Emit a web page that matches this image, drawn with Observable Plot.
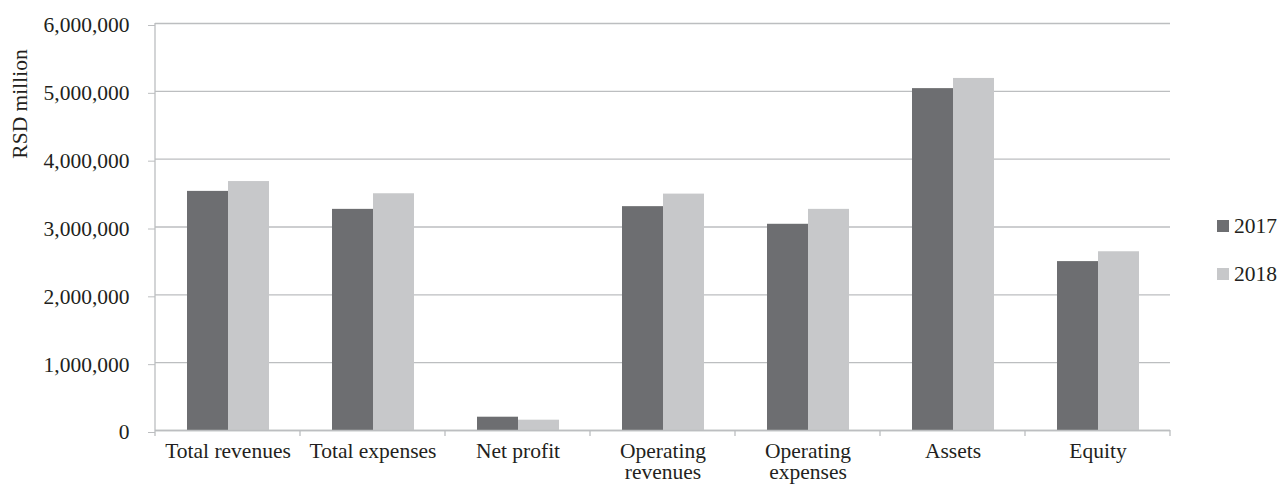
<!DOCTYPE html>
<html><head><meta charset="utf-8">
<script src="https://cdn.jsdelivr.net/npm/d3@7"></script>
<script src="https://cdn.jsdelivr.net/npm/@observablehq/plot@0.6"></script>
<style>
body{margin:0;background:#fff;}
#wrap{position:relative;width:1283px;height:486px;overflow:hidden;font-family:"Liberation Serif",serif;color:#231f20;}
#wrap svg{display:block;position:absolute;left:0;top:0;}
#ylabel{position:absolute;left:20px;top:104px;transform:translate(-50%,-50%) rotate(-90deg);font-size:21.5px;white-space:nowrap;}
.leg{position:absolute;left:1217px;font-size:21.5px;line-height:1;}
.leg span.sw{position:absolute;left:0;width:12px;height:12px;}
.leg span.tx{position:absolute;left:17px;white-space:nowrap;}
</style></head><body><div id="wrap"></div>
<script>
const categories = ["Total revenues","Total expenses","Net profit","Operating revenues","Operating expenses","Assets","Equity"];
const categoryLabels = ["Total revenues","Total expenses","Net profit","Operating\nrevenues","Operating\nexpenses","Assets","Equity"];
const years = ["2017","2018"];
const values2017 = [3525000,3260000,196000,3300000,3040000,5040000,2490000];
const values2018 = [3670000,3490000,152000,3485000,3260000,5190000,2635000];
const yTicks = [0,1000000,2000000,3000000,4000000,5000000,6000000];
const yLabel = "RSD million";
const colors = ["#6d6e71","#c7c8ca"];

const data = [];
categories.forEach((c,i)=>{
  data.push({category:c, year:years[0], value:values2017[i]});
  data.push({category:c, year:years[1], value:values2018[i]});
});

const W=1283,H=486,mt=23,mb=56,ml=155,mr=113;
const gridColor="#bcbec0", textColor="#231f20";
const chart = Plot.plot({
  width:W,height:H,marginTop:mt,marginBottom:mb,marginLeft:ml,marginRight:mr,
  style:{fontFamily:"Liberation Serif, serif",fontSize:"21.5px",color:textColor,background:"#fff"},
  fx:{domain:categories,padding:0,label:null},
  x:{domain:years,paddingInner:0,paddingOuter:0.75,axis:null},
  y:{domain:[0,6000000],label:null},
  color:{domain:years,range:colors},
  marks:[
    Plot.gridY(yTicks,{stroke:gridColor,strokeOpacity:1,strokeWidth:1.3}),
    Plot.barY(data,{fx:"category",x:"year",y:"value",fill:"year"}),
    Plot.ruleY([0],{stroke:gridColor,strokeWidth:1.3}),
    Plot.axisY(yTicks,{tickSize:7,tickPadding:19,tickFormat:d3.format(","),stroke:gridColor,fill:textColor,fontSize:21.5,label:null,dy:2}),
    Plot.axisFx({anchor:"bottom",tickSize:0,tickPadding:12,tickFormat:d=>categoryLabels[categories.indexOf(d)],fontSize:21.5,lineHeight:1.0,label:null,fill:textColor})
  ]
});

// category boundary ticks and y axis line from the library's scales
const fxS = chart.scale("fx"), yS = chart.scale("y");
const edges = categories.map(d=>fxS.apply(d)).concat([fxS.apply(categories[categories.length-1])+fxS.bandwidth]);
const g = d3.select(chart).append("g").attr("stroke",gridColor).attr("stroke-width",1.3);
g.selectAll("line.t").data(edges).join("line").attr("class","t")
  .attr("x1",d=>d).attr("x2",d=>d).attr("y1",yS.apply(0)).attr("y2",yS.apply(0)+6);
g.append("line").attr("x1",edges[0]).attr("x2",edges[0]).attr("y1",yS.apply(6000000)).attr("y2",yS.apply(0));

const wrap=document.getElementById("wrap");
wrap.appendChild(chart);
const yl=document.createElement("div");yl.id="ylabel";yl.textContent=yLabel;wrap.appendChild(yl);
const legTops=[220,268];
years.forEach((y,i)=>{
  const d=document.createElement("div");d.className="leg";d.style.top=legTops[i]+"px";
  d.innerHTML=`<span class="sw" style="background:${colors[i]};top:0"></span><span class="tx" style="top:-4px">${y}</span>`;
  wrap.appendChild(d);
});
</script></body></html>
